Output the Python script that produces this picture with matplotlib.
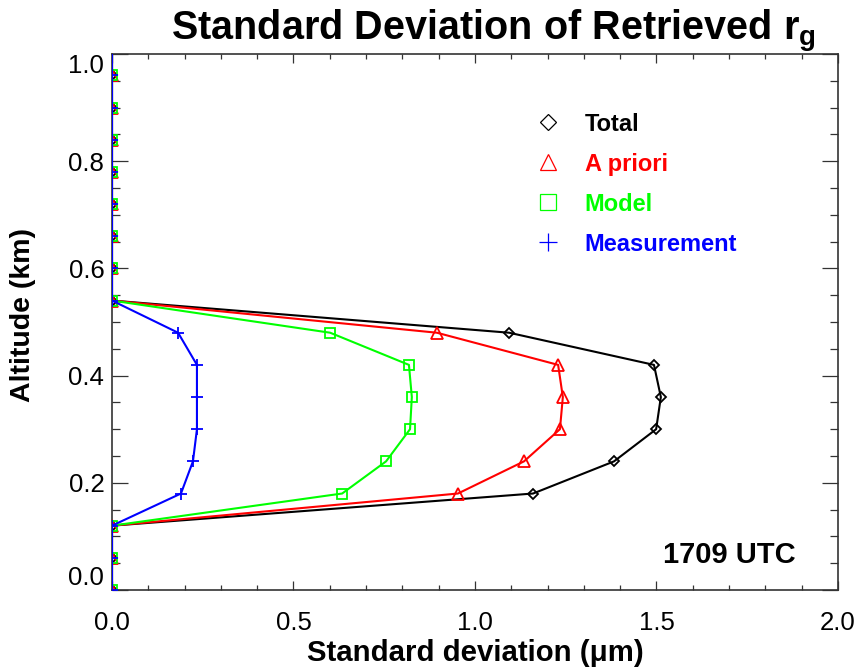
import matplotlib
matplotlib.use("Agg")
import matplotlib.pyplot as plt
from matplotlib.lines import Line2D

plt.rcParams['font.family'] = ['Liberation Sans', 'DejaVu Sans']
plt.rcParams['mathtext.fontset'] = 'custom'
plt.rcParams['mathtext.rm'] = 'Liberation Sans:bold'
plt.rcParams['mathtext.it'] = 'Liberation Sans:bold'
plt.rcParams['mathtext.bf'] = 'Liberation Sans:bold'

# ---- data ----
altitude = [1.02, 0.96, 0.90, 0.84, 0.78, 0.72, 0.66, 0.60, 0.54,
            0.48, 0.42, 0.36, 0.30, 0.24, 0.18, 0.12, 0.06, 0.00]
total = [0, 0, 0, 0, 0, 0, 0, 0, 0,
         1.094, 1.493, 1.512, 1.499, 1.383, 1.160, 0, 0, 0]
apriori = [0, 0, 0, 0, 0, 0, 0, 0, 0,
           0.895, 1.229, 1.242, 1.234, 1.135, 0.953, 0, 0, 0]
model = [0, 0, 0, 0, 0, 0, 0, 0, 0,
         0.601, 0.818, 0.826, 0.821, 0.755, 0.634, 0, 0, 0]
measurement = [0, 0, 0, 0, 0, 0, 0, 0, 0,
               0.182, 0.234, 0.234, 0.234, 0.223, 0.190, 0, 0, 0]

series_names = ['Total', 'A priori', 'Model', 'Measurement']
series_colors = ['black', '#ff0000', '#00ff00', '#0000ff']
series_markers = ['D', '^', 's', '+']
series_ms = [5.6, 8.0, 7.6, 9.0]
legend_ms = [8.4, 12.0, 11.0, 12.5]

xticks = [0.0, 0.5, 1.0, 1.5, 2.0]
xticklabels = ['0.0', '0.5', '1.0', '1.5', '2.0']
yticks = [0.0, 0.2, 0.4, 0.6, 0.8, 1.0]
yticklabels = ['0.0', '0.2', '0.4', '0.6', '0.8', '1.0']

# ---- figure ----
fig = plt.figure(figsize=(8.62, 6.68), dpi=100)
ax = fig.add_axes([112/862, 78/668, 726/862, 536/668])

all_series = [total, apriori, model, measurement]
for vals, c, m, ms in zip(all_series, series_colors, series_markers, series_ms):
    ax.plot(vals, altitude, color=c, lw=1.5, marker=m, ms=ms,
            markerfacecolor='none', markeredgecolor=c, markeredgewidth=1.3,
            zorder=3)

ax.set_xlim(0, 2.0)
ax.set_ylim(0, 1.0)
ax.set_xticks(xticks, xticklabels)
ax.set_yticks(yticks, yticklabels)
ax.set_xticks([i / 10 for i in range(21)], minor=True)
ax.set_yticks([i / 20 for i in range(21)], minor=True)

ax.tick_params(which='both', direction='in', top=True, right=True,
               color='#333333', width=0.9)
ax.tick_params(axis='x', which='major', length=6.5, pad=15, labelsize=18.5)
ax.tick_params(axis='x', which='minor', length=3.3)
ax.tick_params(axis='y', which='major', length=11.5, pad=5.5, labelsize=18.5)
ax.tick_params(axis='y', which='minor', length=5.8)
for sp in ax.spines.values():
    sp.set_color('#333333')
    sp.set_linewidth(1.2)

ylabs = ax.get_yticklabels()
ylabs[0].set_va('bottom')
ylabs[-1].set_va('top')

ax.set_xlabel('Standard deviation (\u03bcm)', fontsize=21.2, fontweight='bold')
ax.xaxis.set_label_coords(0.5, -0.091)
ax.set_ylabel('Altitude (km)', fontsize=20.5, fontweight='bold')
ax.yaxis.set_label_coords(-0.105, 0.513)

fig.text(493/862, 628/668, 'Standard Deviation of Retrieved r$_{\\mathrm{g}}$',
         ha='center', va='baseline', fontsize=28.5, fontweight='bold')

ax.text(0.941, 0.050, '1709 UTC', transform=ax.transAxes, ha='right',
        va='baseline', fontsize=21, fontweight='bold')

handles = [Line2D([], [], linestyle='none', marker=m, ms=ms, color=c,
                  markerfacecolor='none', markeredgewidth=0.9)
           for m, ms, c in zip(series_markers, legend_ms, series_colors)]
ax.legend(handles, series_names, loc='upper left',
          bbox_to_anchor=(0.584, 0.8905), frameon=False,
          prop={'weight': 'bold', 'size': 17}, handlelength=1.0,
          handletextpad=1.07, labelspacing=0.72, borderpad=0,
          borderaxespad=0, labelcolor=series_colors)

fig.savefig('out.png', dpi=100)
